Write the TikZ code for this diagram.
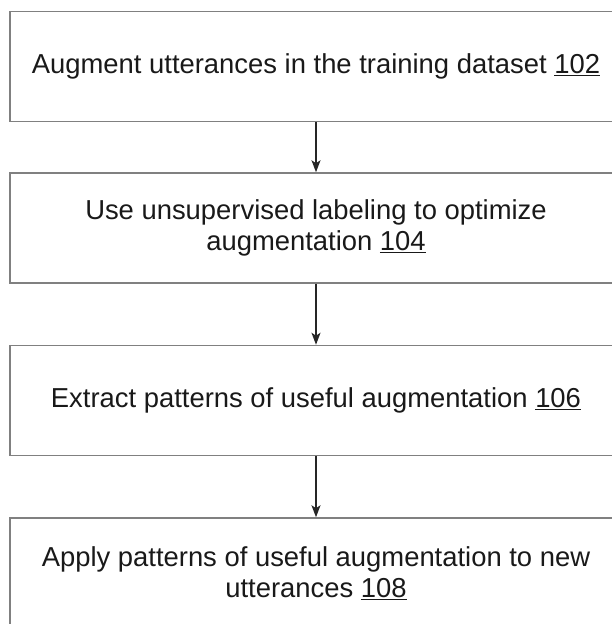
\documentclass[tikz,border=0pt]{standalone}
\usepackage{fontspec}
\setmainfont{Liberation Sans}
\usetikzlibrary{arrows.meta}
\tikzstyle{stepbox} = [rectangle, draw=black!50, line width=1.5pt, minimum width=612pt, minimum height=110pt, align=center, text centered, text=black!90, font=\fontsize{27.4}{31}\selectfont]
\tikzstyle{flow} = [-{Stealth[length=12pt,width=9pt,inset=3pt]}, draw=black!85, line width=1.5pt]

\begin{document}
\begin{tikzpicture}[x=1pt,y=1pt]
                \clip (0,0) rectangle (612,624);
                \node[stepbox] (augment) at (316,557.5){Augment utterances in the training dataset \underline{102}};
                \node[stepbox] (label) at (316,396){Use unsupervised labeling to optimize\\augmentation \underline{104}};
                \node[stepbox] (extract) at (316,223.5){Extract patterns of useful augmentation \underline{106}};
                \node[stepbox] (apply) at (316,51){Apply patterns of useful augmentation to new\\utterances \underline{108}};
                \draw[flow] (augment) -- (label);
                \draw[flow] (label) -- (extract);
                \draw[flow] (extract) -- (apply);
             \end{tikzpicture}
\end{document}
